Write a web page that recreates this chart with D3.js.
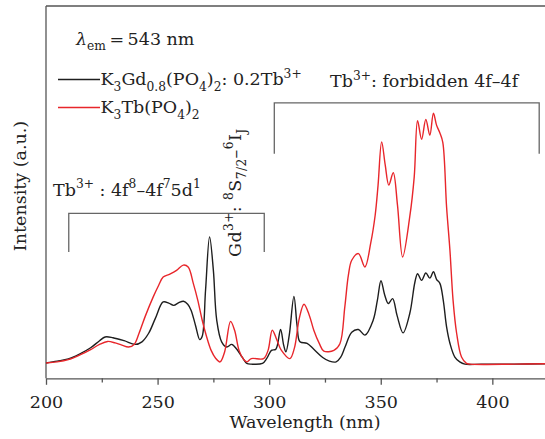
<!DOCTYPE html>
<html>
<head>
<meta charset="utf-8">
<script src="https://cdn.jsdelivr.net/npm/d3@7"></script>
<style>
  body { margin: 0; background: #fff; }
  svg { display: block; }
</style>
</head>
<body>
<script>
// Excitation spectra (λem = 543 nm), intensity in arbitrary units
const gdWavelength = [200,205,210,215,220,224,226.5,230,235,240,243,246,249,252.5,255,257.2,259.5,261.6,263.5,265,267,268.9,270,271.5,273.3,275,276.5,278.7,281,283.2,285.5,288,290,292,297,299,301,303,305.1,306.5,307.5,309,311.1,312.5,313.8,317,320,324,327,330,332,334,337,340,342.9,346.6,348.5,350.1,351.8,353.4,355.3,357.3,360,363,365.3,366.5,368.3,370.2,372,373.6,375,376.5,378,379.5,381,383.2,385.4,387.7,395,410,423.6];
const gdIntensity = [4.1,4.6,5.2,6.5,8.2,10.1,11.1,10.9,10.1,9.1,9.8,12.1,16.1,20.5,20.2,19.6,20.3,20.7,19.9,18.3,14.2,10.4,11.3,23.7,38.0,29.0,15.6,9.8,8.4,9.1,7.8,5.6,4.0,3.8,4.0,5.4,7.5,7.8,13.1,8.9,7.1,11.6,22.0,14.2,9.8,9.4,7.8,5.6,4.6,4.4,5.6,8.4,12.4,13.1,11.6,15.6,21.0,26.2,22.3,20.1,21.4,16.9,12.2,17.4,25.8,28.1,26.3,28.3,26.9,28.6,26.6,25.5,21.0,13.8,9.4,5.7,4.4,3.8,3.8,3.8,3.9];

const tbWavelength = [200,205,210,215,220,224,227.6,231,234,237,239.5,241.7,244.5,248,250.5,252.5,255.5,258.5,261.5,263.7,266,268,270,272,274,276,278,280,282.7,284.5,286.5,288.5,290,292,297.5,299.5,301.4,303.5,305.5,309.3,311.3,313.5,315.6,318,320,322.5,324.5,329,331.7,333.9,335.5,337,340,342.9,345.5,347.5,348.8,350.4,352,353.6,355.6,357.5,359.8,363,365,366.5,368.3,370.2,372,373.6,375,376.5,377.8,379.5,381,382.4,384,386.2,388.4,390,410,423.6];
const tbIntensity = [4.1,4.4,5.0,6.2,7.7,9.1,9.9,9.5,8.9,8.4,9.1,12.1,16.7,21.8,25.0,27.2,28.0,29.0,30.4,29.9,25.5,21.0,15.6,11.1,7.5,5.4,4.4,7.0,15.3,12.9,7.5,5.1,4.4,5.3,5.3,7.5,12.9,10.2,7.5,5.3,8.1,16.1,19.9,16.9,12.9,9.3,7.3,7.5,9.3,19.2,27.7,31.7,33.5,29.9,36.3,43.8,51.9,63.5,57.3,51.9,55.2,46.5,32.6,43.4,54.1,69.2,64.2,69.5,65.3,71.2,68.0,65.9,63.4,46.0,34.4,21.0,12.1,5.7,4.0,3.8,3.8,3.9];

const xMajorTicks = [200, 250, 300, 350, 400];
const xMinorTicks = [225, 275, 325, 375];

// Rich-text pieces: [text, style] where style is "", "sub", "sup" or "it"
const gdLabel = [["K",""],["3","sub"],["Gd",""],["0.8","sub"],["(PO",""],["4","sub"],[")",""],["2","sub"],[": 0.2Tb",""],["3+","sup"]];
const tbLabel = [["K",""],["3","sub"],["Tb(PO",""],["4","sub"],[")",""],["2","sub"]];
const emissionNote = [["λ","it"],["em","sub"],["\u2009=\u2009543 nm",""]];
const fBandNote = [["Tb",""],["3+","sup"],[": forbidden 4f–4f",""]];
const dBandNote = [["Tb",""],["3+","sup"],[" : 4f",""],["8","sup"],["–4f",""],["7","sup"],["5d",""],["1","sup"]];
const gdBandNote = [["Gd",""],["3+","sup"],[": ",""],["8","sup"],["S",""],["7/2","sub"],["–",""],["6","sup"],["I",""],["J","sub"]];

// Bracket spans [start nm, end nm, top a.u., bottom a.u.]
const dBandSpan = [210.2, 297.8, 44.3, 33.9];
const fBandSpan = [302.3, 421.0, 74.0, 60.3];

const W = 545, H = 439;
const FONT = "'DejaVu Serif', 'Liberation Serif', serif";
const FS = 17.5;

const svg = d3.select("body").append("svg")
  .attr("width", W).attr("height", H)
  .style("font-family", FONT);

const x = d3.scaleLinear().domain([200, 423.6]).range([46, 545]);
const y = d3.scaleLinear().domain([0, 100]).range([378.3, 6]);

const axisColor = "#555";

// frame: top edge and left edge
svg.append("line")
  .attr("x1", x(200)).attr("x2", W + 5)
  .attr("y1", y(100)).attr("y2", y(100))
  .attr("stroke", axisColor).attr("stroke-width", 1.3);
svg.append("line")
  .attr("x1", x(200)).attr("x2", x(200))
  .attr("y1", y(100)).attr("y2", y(0))
  .attr("stroke", axisColor).attr("stroke-width", 1.3);

// bottom axis with major and minor ticks
const gx = svg.append("g").attr("transform", `translate(0,${y(0)})`)
  .call(d3.axisBottom(x).tickValues(xMajorTicks).tickSizeInner(6.5).tickSizeOuter(0).tickFormat(d3.format("d")));
gx.select(".domain").attr("stroke", axisColor).attr("stroke-width", 1.3);
gx.selectAll(".tick line").attr("stroke", axisColor).attr("stroke-width", 1.3);
gx.selectAll(".tick text")
  .attr("y", 17.5).attr("fill", "#222")
  .style("font-family", FONT).style("font-size", FS + "px");

const gxm = svg.append("g").attr("transform", `translate(0,${y(0)})`)
  .call(d3.axisBottom(x).tickValues(xMinorTicks).tickSizeInner(4.3).tickSizeOuter(0).tickFormat(""));
gxm.select(".domain").remove();
gxm.selectAll(".tick line").attr("stroke", axisColor).attr("stroke-width", 1.3);

// axis titles
svg.append("text")
  .attr("x", 305).attr("y", 428)
  .attr("text-anchor", "middle").attr("fill", "#222")
  .style("font-size", FS + "px")
  .text("Wavelength (nm)");
svg.append("text")
  .attr("transform", "translate(26,186) rotate(-90)")
  .attr("text-anchor", "middle").attr("fill", "#222")
  .style("font-size", FS + "px")
  .text("Intensity (a.u.)");

// spectra
const line = d3.line()
  .x(d => x(d[0])).y(d => y(d[1]))
  .curve(d3.curveCatmullRom.alpha(0.5));

const gdData = gdWavelength.map((w, i) => [w, gdIntensity[i]]);
const tbData = tbWavelength.map((w, i) => [w, tbIntensity[i]]);

svg.append("path").datum(gdData)
  .attr("d", line).attr("fill", "none")
  .attr("stroke", "#1e1e1e").attr("stroke-width", 1.4);
svg.append("path").datum(tbData)
  .attr("d", line).attr("fill", "none")
  .attr("stroke", "#e8262b").attr("stroke-width", 1.4);

// text with sub/superscripts
function richText(sel, parts, size) {
  let shift = 0;
  parts.forEach(([t, s]) => {
    const target = s === "sup" ? -0.42 * size : s === "sub" ? 0.3 * size : 0;
    const ts = sel.append("tspan")
      .attr("dy", target - shift)
      .style("font-size", (s === "sup" || s === "sub" ? size * 0.7 : size) + "px")
      .text(t);
    if (s === "it") ts.style("font-style", "italic");
    shift = target;
  });
  return sel;
}

function note(xp, yp, parts, rotate) {
  const t = svg.append("text").attr("fill", "#222").style("font-size", FS + "px");
  if (rotate) t.attr("transform", `translate(${xp},${yp}) rotate(-90)`);
  else t.attr("x", xp).attr("y", yp);
  return richText(t, parts, FS);
}

note(76, 45, emissionNote);

// legend
const legendItems = [
  { parts: gdLabel, color: "#1e1e1e", y: 79.5 },
  { parts: tbLabel, color: "#e8262b", y: 107.5 }
];
legendItems.forEach(it => {
  svg.append("line")
    .attr("x1", 58).attr("x2", 100)
    .attr("y1", it.y).attr("y2", it.y)
    .attr("stroke", it.color).attr("stroke-width", 1.4);
  note(100.5, it.y + 5.8, it.parts);
});

// band brackets
function bracket(span) {
  const [a, b, top, bottom] = span;
  svg.append("path")
    .attr("d", `M${x(a)},${y(bottom)}V${y(top)}H${x(b)}V${y(bottom)}`)
    .attr("fill", "none").attr("stroke", "#666").attr("stroke-width", 1.3);
}
bracket(dBandSpan);
bracket(fBandSpan);

note(53, 195.5, dBandNote);
note(330, 87, fBandNote);
note(240.5, 257, gdBandNote, true).attr("letter-spacing", 0.4);
</script>
</body>
</html>
